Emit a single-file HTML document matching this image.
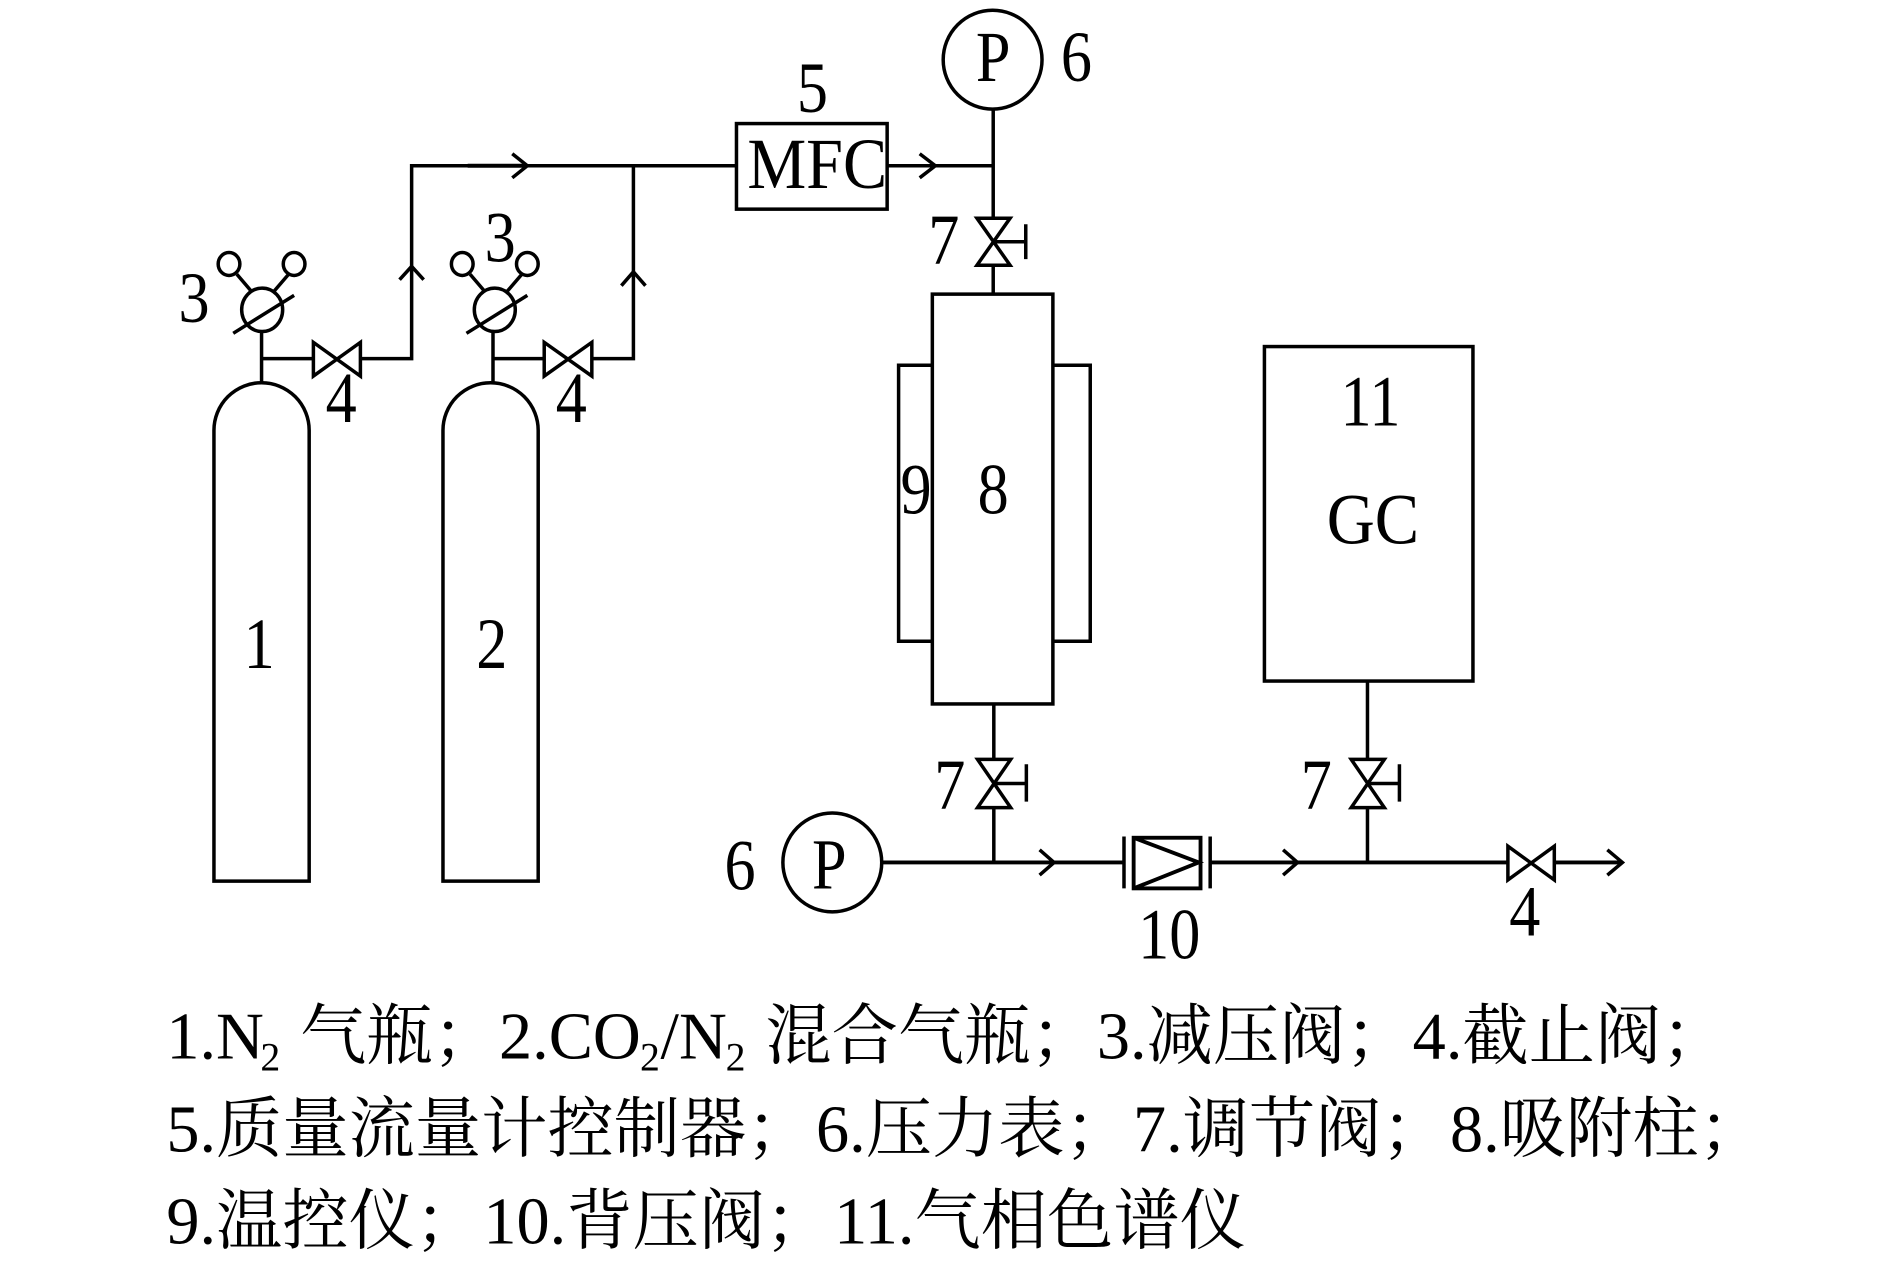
<!DOCTYPE html>
<html lang="zh"><head><meta charset="utf-8"><title>Diagram</title>
<style>html,body{margin:0;padding:0;background:#fff}svg{display:block}
.l{font-family:"Liberation Serif","Noto Serif CJK SC",serif;font-size:60px;text-anchor:middle;fill:#000}
.c{font-family:"Liberation Serif","Noto Serif CJK SC",serif;font-size:55px;fill:#000}
.s{font-size:33px}
</style></head><body>
<svg width="1890" height="1267" viewBox="0 0 1568 1051.1" xmlns="http://www.w3.org/2000/svg">
<rect width="1568" height="1052" fill="#fff"/>
<g fill="none" stroke="#000" stroke-width="2.900">
<path d="M177.500 731V357A39.500 39.500 0 0 1 256.500 357V731Z"/>
<path d="M367.500 731V357A39.500 39.500 0 0 1 446.500 357V731Z"/>
<path d="M217 275V318M217 297.500H260M299 297.500H341.500V137.500H611"/>
<path d="M409 275V318M409 297.500H451M491 297.500H525.500V137.500"/>
<ellipse cx="217.500" cy="257" rx="17" ry="18"/><ellipse cx="410.500" cy="257" rx="17" ry="18"/>
<ellipse cx="190" cy="219" rx="9" ry="9.500"/><ellipse cx="244" cy="219" rx="9" ry="9.500"/>
<ellipse cx="383.500" cy="219" rx="9" ry="9.500"/><ellipse cx="437.500" cy="219" rx="9" ry="9.500"/>
<path d="M196.500 227.500L208 241M239 228L227 242M193.500 276.500L244 245"/>
<path d="M390 227.500L401.500 241M432.500 228L420.500 242M387 276.500L437.500 245"/>
<path d="M260 284V312L299 284V312Z"/><path d="M451.500 284V312L491 284V312Z"/>
<path d="M331.500 232L341.500 221L351.500 232M515.500 237L525.500 225.500L535.500 237"/>
<path d="M425 127.500L437.500 137.500L425 147.500M763 127.500L776 137.500L763 147.500"/>
<path d="M388 137.500H437" stroke-width="3.400"/>
<rect x="611" y="102.500" width="125" height="71"/>
<path d="M736 137.500H824"/>
<circle cx="823.500" cy="49.500" r="41"/>
<path d="M824 90.500V181M824 220V244"/>
<path d="M810.500 181H838L810.500 220H838Z"/><path d="M824 200.500H851M851 186V215"/>
<rect x="773.500" y="244" width="100" height="340"/>
<path d="M773.500 303H745.500V532H773.500M873.500 303H904.500V532H873.500"/>
<rect x="1049" y="287.500" width="173" height="277.500"/>
<path d="M824.500 584V630M824.500 670V715"/>
<path d="M811 630H838.500L811 670H838.500Z"/><path d="M824.500 650H851.500M851.500 634V665"/>
<path d="M1134.500 565V630M1134.500 670V715"/>
<path d="M1121 630H1148.500L1121 670H1148.500Z"/><path d="M1134.500 650H1161M1161 634V665"/>
<circle cx="690.500" cy="715.500" r="41"/>
<path d="M732 715.500H932.500M1004 715.500H1251M1290 715.500H1346" stroke-width="3.200"/>
<path d="M932.500 694V737M1004 694V737"/>
<rect x="940.500" y="695" width="55.500" height="42" stroke-width="3.200"/>
<path d="M940.500 695L994.500 715.500L940.500 737" stroke-width="3.200"/>
<path d="M862.500 705L874.500 715.500L862.500 726M1064.500 705L1076.500 715.500L1064.500 726M1333.500 705L1346 715.500L1333.500 726"/>
<path d="M1251 702V730L1289.500 702V730Z"/>
</g>
<g class="l">
<text transform="translate(215 554) scale(.86 1)">1</text>
<text transform="translate(408 554) scale(.86 1)">2</text>
<text transform="translate(161 267) scale(.86 1)">3</text>
<text transform="translate(415 217) scale(.86 1)">3</text>
<text transform="translate(283 350) scale(.86 1)">4</text>
<text transform="translate(474 350) scale(.86 1)">4</text>
<text transform="translate(674 93) scale(.86 1)">5</text>
<text transform="translate(893 67) scale(.86 1)">6</text>
<text transform="translate(824 67) scale(.86 1)">P</text>
<text transform="translate(783 219) scale(.86 1)">7</text>
<text transform="translate(788 671) scale(.86 1)">7</text>
<text transform="translate(1092 671) scale(.86 1)">7</text>
<text transform="translate(614 738) scale(.86 1)">6</text>
<text transform="translate(688 737) scale(.86 1)">P</text>
<text transform="translate(970 795) scale(.86 1)">10</text>
<text transform="translate(1265 776) scale(.86 1)">4</text>
<text transform="translate(760 426) scale(.86 1)">9</text>
<text transform="translate(824 426) scale(.86 1)">8</text>
<text transform="translate(1137 353) scale(.86 1)">11</text>
<text transform="translate(1139 451) scale(.92 1)">GC</text>
<text x="678" y="156" textLength="116" lengthAdjust="spacingAndGlyphs">MFC</text>
</g>
<g class="c">
<text x="138" y="878">1.N</text><text class="s" x="216" y="888">2</text><text x="249" y="878">气瓶；</text>
<text x="414" y="878">2.CO</text><text class="s" x="531" y="888">2</text><text x="548" y="878">/N</text><text class="s" x="602" y="888">2</text><text x="635" y="878">混合气瓶；</text>
<text x="910" y="878">3.减压阀；</text><text x="1172" y="878">4.截止阀；</text>
<text x="138" y="955.500">5.质量流量计控制器；</text><text x="677" y="955.500">6.压力表；</text><text x="940" y="955.500">7.调节阀；</text><text x="1203" y="955.500">8.吸附柱；</text>
<text x="138" y="1031.500">9.温控仪；</text><text x="401" y="1031.500">10.背压阀；</text><text x="692" y="1031.500">11.气相色谱仪</text>
</g>
</svg>
</body></html>
